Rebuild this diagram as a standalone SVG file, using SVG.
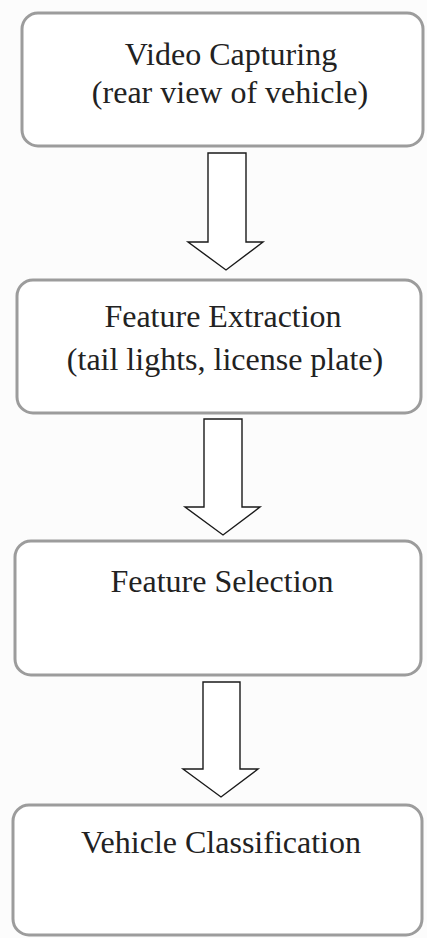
<svg xmlns="http://www.w3.org/2000/svg" width="427" height="938" viewBox="0 0 427 938">
<style>
.box{fill:#ffffff;stroke:#9c9c9c;stroke-width:3}
.lbl{font-family:"Liberation Serif","Times New Roman",serif;font-size:32px;fill:#222222;text-anchor:middle}
.arr{fill:#ffffff;stroke:#1a1a1a;stroke-width:1.4;stroke-linejoin:miter}
</style>
<rect x="0" y="0" width="427" height="938" fill="#fcfcfc"/>
<g id="connectors">
<polygon class="arr" points="208,153 246,153 246,242 263,242 226,270 188,242 208,242"/>
<polygon class="arr" points="204,419 242,419 242,507 260,507 223,535 185,507 204,507"/>
<polygon class="arr" points="203,682 240,682 240,769 258,769 221,797 183,769 203,769"/>
</g>
<g id="node1">
<rect class="box" x="22" y="13" width="401" height="133" rx="16"/>
<text class="lbl" x="231" y="65">Video Capturing</text>
<text class="lbl" x="230" y="103">(rear view of vehicle)</text>
</g>
<g id="node2">
<rect class="box" x="17" y="280" width="404" height="133" rx="16"/>
<text class="lbl" x="223" y="327">Feature Extraction</text>
<text class="lbl" x="225" y="370">(tail lights, license plate)</text>
</g>
<g id="node3">
<rect class="box" x="15" y="541" width="406" height="134" rx="16"/>
<text class="lbl" x="222" y="592">Feature Selection</text>
</g>
<g id="node4">
<rect class="box" x="13" y="805" width="409" height="130" rx="16"/>
<text class="lbl" x="221" y="853">Vehicle Classification</text>
</g>
</svg>
